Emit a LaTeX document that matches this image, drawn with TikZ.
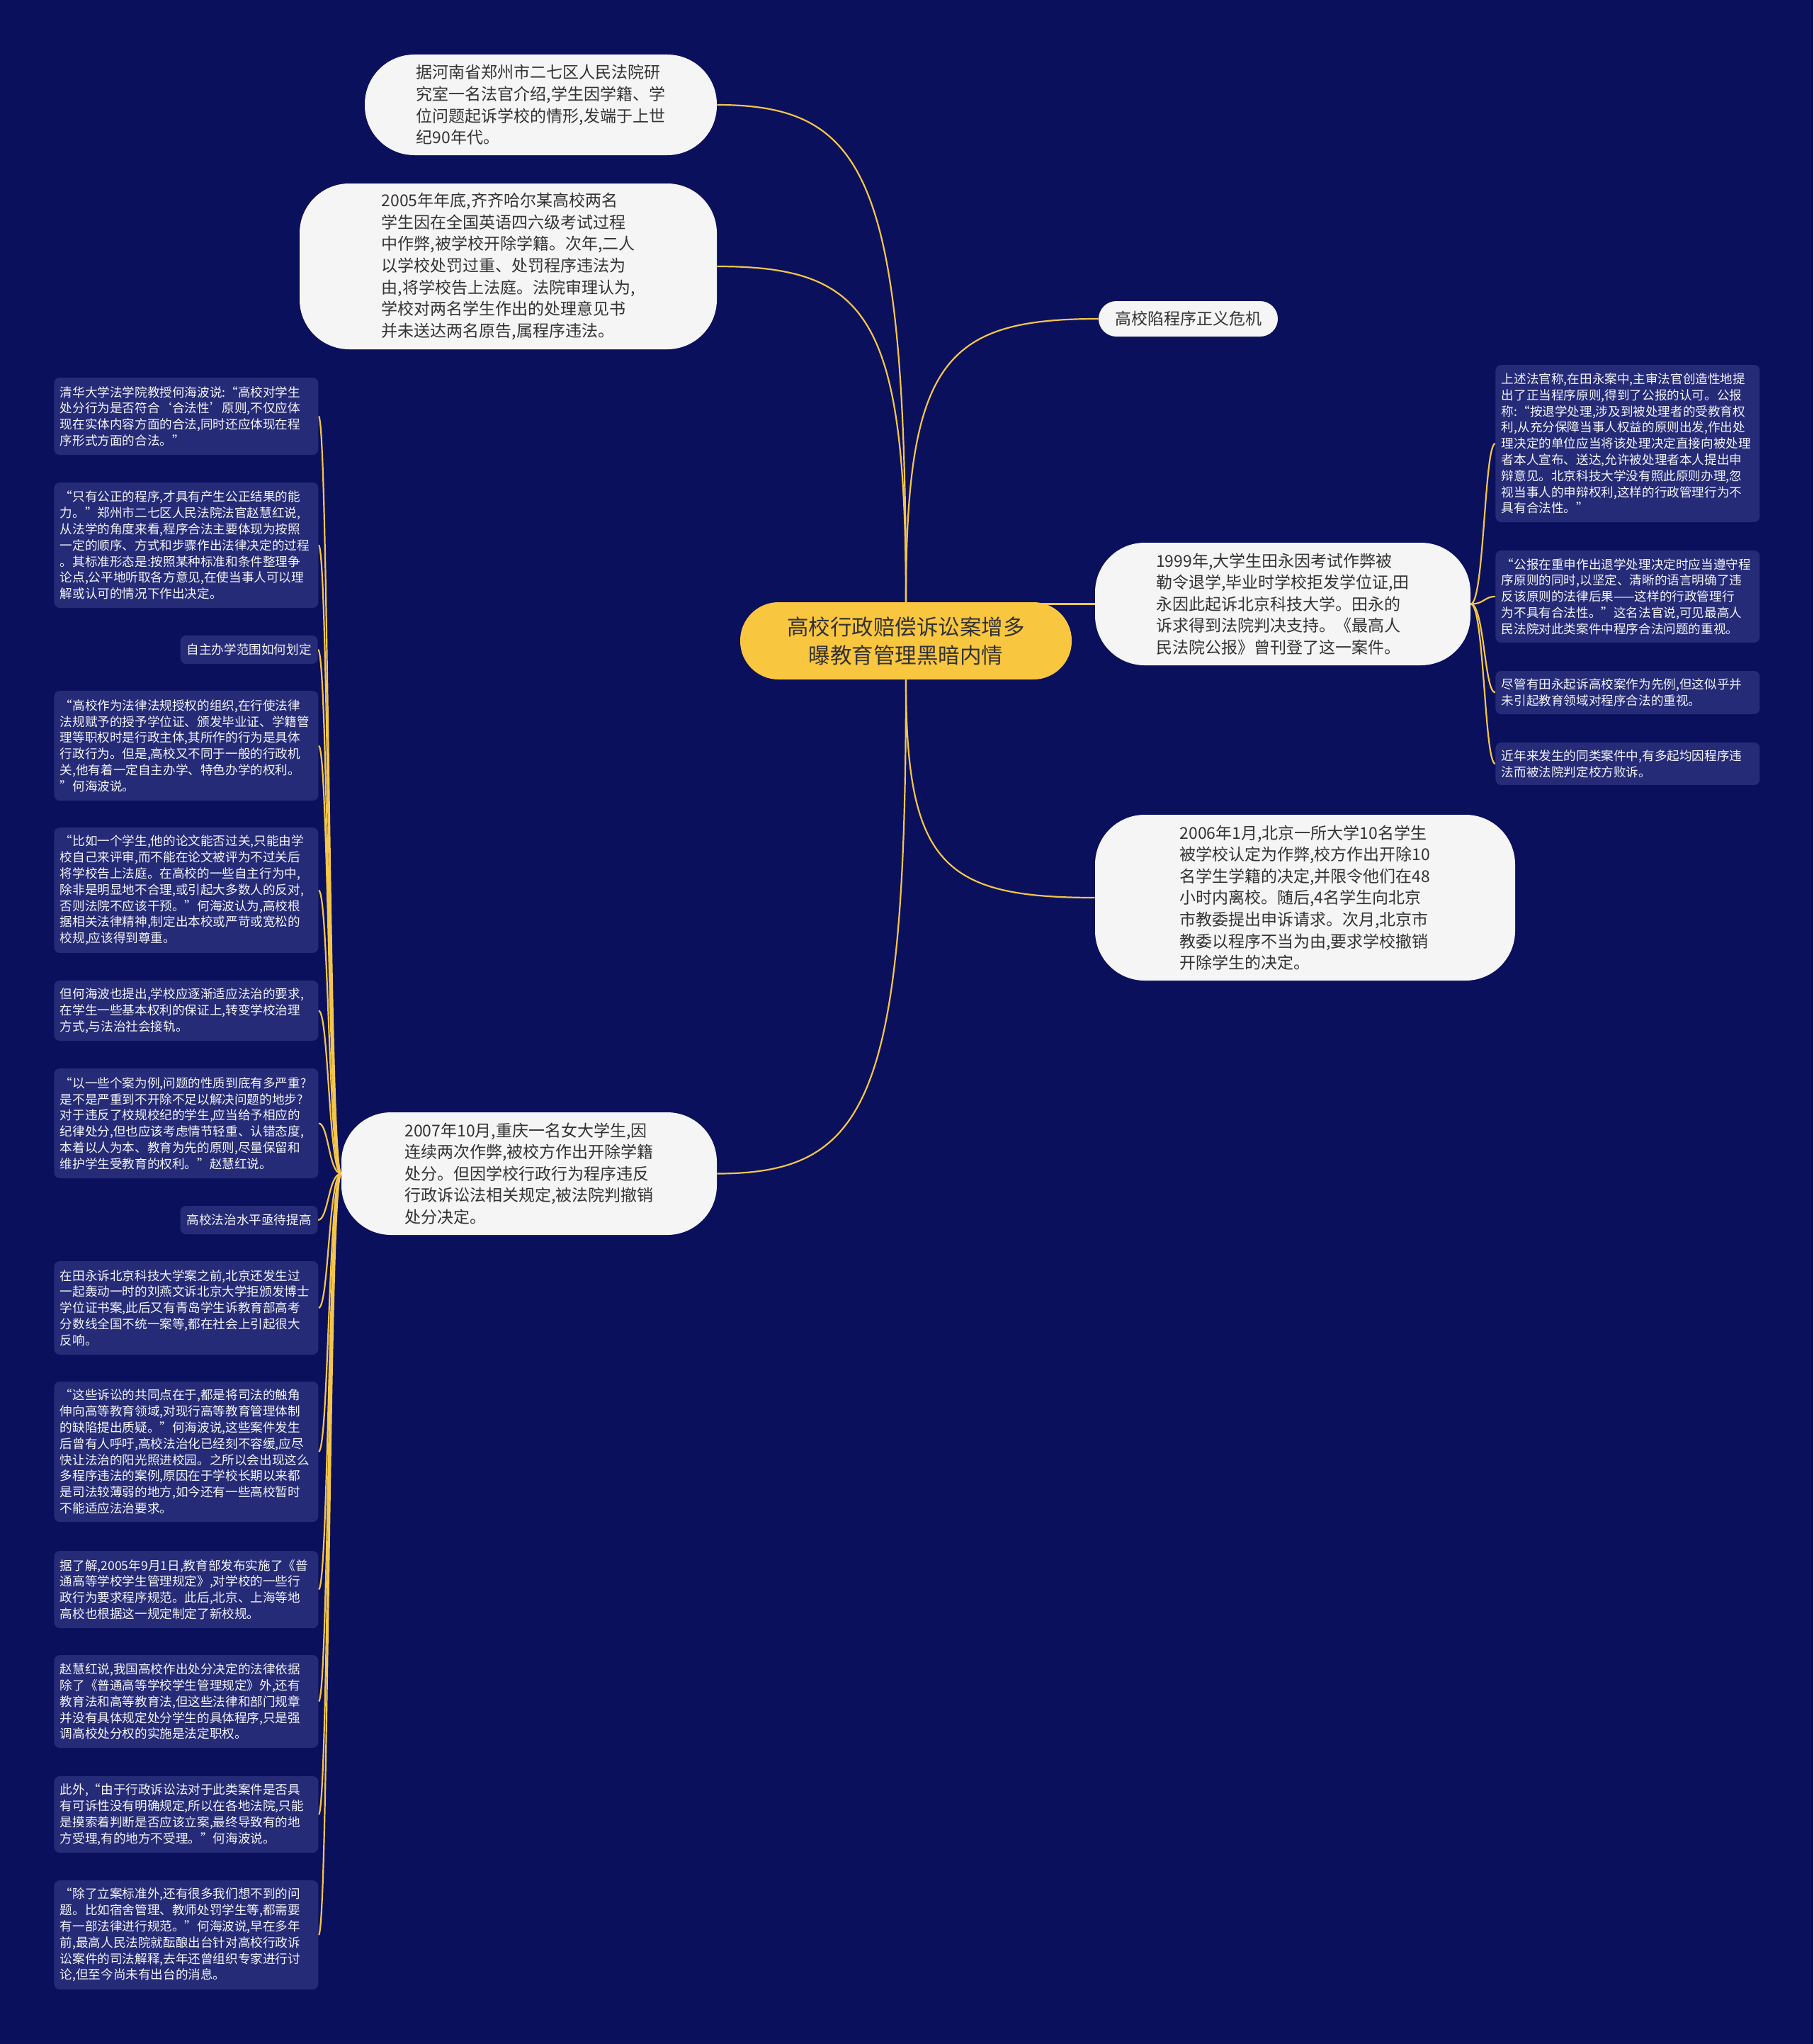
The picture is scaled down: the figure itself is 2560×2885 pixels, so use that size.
\documentclass[tikz,border=0pt]{standalone}
\usepackage{fontspec}
\setmainfont{Noto Sans CJK SC}
\usetikzlibrary{calc}
\definecolor{bgc}{HTML}{0B105C}
\definecolor{leafc}{HTML}{252B77}
\definecolor{leaft}{HTML}{F4F4F8}
\definecolor{linec}{HTML}{F3C54A}
\definecolor{cenc}{HTML}{F9C640}
\definecolor{cent}{HTML}{333333}
\definecolor{bubc}{HTML}{F5F5F5}
\definecolor{bubt}{HTML}{333333}
\pgfdeclarelayer{bg}
\pgfdeclarelayer{edges}
\pgfsetlayers{bg,edges,main}
\begin{document}
\begin{tikzpicture}[x=0.5pt,y=-0.5pt,
  bubble/.style={fill=bubc, text=bubt, rounded corners=35pt, align=left, inner sep=0pt,
    font=\fontsize{11.5pt}{15.3pt}\selectfont},
  leaf/.style={fill=leafc, text=leaft, rounded corners=4pt, align=left, text width=178pt,
    inner xsep=4.25pt, inner ysep=0pt, anchor=west, font=\fontsize{8.8pt}{11.4pt}\selectfont},
  tagbox/.style={fill=leafc, text=leaft, rounded corners=4pt, inner xsep=4.5pt, inner ysep=0pt,
    minimum height=20pt, anchor=east, font=\fontsize{8.8pt}{11.4pt}\selectfont},
  rootbox/.style={fill=cenc, text=cent, rounded corners=27pt, align=center, inner sep=0pt,
    minimum width=234pt, minimum height=54.5pt, font=\fontsize{15.25pt}{20pt}\selectfont},
  edge/.style={draw=linec, line width=1.1pt},
  vh/.style={to path={.. controls ($(\tikztostart)!0.85!(\tikztostart|-\tikztotarget)$) and ($(\tikztotarget)!0.8!(\tikztostart|-\tikztotarget)$) .. (\tikztotarget)}},
  fan/.style={to path={.. controls ($(\tikztostart)!0.55!(\tikztostart-|\tikztotarget)$) and ($(\tikztotarget)!0.45!(\tikztotarget-|\tikztostart)$) .. (\tikztotarget)}}
]
\useasboundingbox (0,0) rectangle (2560,2885);
\begin{pgfonlayer}{bg}
\fill[bgc] (0,0) rectangle (2560,2885);
\end{pgfonlayer}

% root
\node[rootbox] (c) at (1279,904.5) {高校行政赔偿诉讼案增多\\曝教育管理黑暗内情};

% main branches
\node[bubble, minimum width=248.5pt, minimum height=71pt] (n1) at (763.5,148) {据河南省郑州市二七区人民法院研\\究室一名法官介绍,学生因学籍、学\\位问题起诉学校的情形,发端于上世\\纪90年代。};
\node[bubble, minimum width=294.5pt, minimum height=117pt] (n2) at (717.5,376) {2005年年底,齐齐哈尔某高校两名\\学生因在全国英语四六级考试过程\\中作弊,被学校开除学籍。次年,二人\\以学校处罚过重、处罚程序违法为\\由,将学校告上法庭。法院审理认为,\\学校对两名学生作出的处理意见书\\并未送达两名原告,属程序违法。};
\node[bubble, rounded corners=12.5pt, minimum width=126.5pt, minimum height=25pt] (n3) at (1677.5,450) {高校陷程序正义危机};
\node[bubble, minimum width=265pt, minimum height=86.5pt] (n4) at (1811,852.5) {1999年,大学生田永因考试作弊被\\勒令退学,毕业时学校拒发学位证,田\\永因此起诉北京科技大学。田永的\\诉求得到法院判决支持。《最高人\\民法院公报》曾刊登了这一案件。};
\node[bubble, minimum width=296.5pt, minimum height=117pt] (n5) at (1842.5,1267) {2006年1月,北京一所大学10名学生\\被学校认定为作弊,校方作出开除10\\名学生学籍的决定,并限令他们在48\\小时内离校。随后,4名学生向北京\\市教委提出申诉请求。次月,北京市\\教委以程序不当为由,要求学校撤销\\开除学生的决定。};
\node[bubble, minimum width=265pt, minimum height=86.5pt] (n6) at (747,1656.5) {2007年10月,重庆一名女大学生,因\\连续两次作弊,被校方作出开除学籍\\处分。但因学校行政行为程序违反\\行政诉讼法相关规定,被法院判撤销\\处分决定。};

% right leaves
\node[leaf, minimum height=111pt] (r1) at (2111,626) {上述法官称,在田永案中,主审法官创造性地提\\出了正当程序原则,得到了公报的认可。公报\\称:“按退学处理,涉及到被处理者的受教育权\\利,从充分保障当事人权益的原则出发,作出处\\理决定的单位应当将该处理决定直接向被处理\\者本人宣布、送达,允许被处理者本人提出申\\辩意见。北京科技大学没有照此原则办理,忽\\视当事人的申辩权利,这样的行政管理行为不\\具有合法性。”};
\node[leaf, minimum height=65pt] (r2) at (2111,842) {“公报在重申作出退学处理决定时应当遵守程\\序原则的同时,以坚定、清晰的语言明确了违\\反该原则的法律后果——这样的行政管理行\\为不具有合法性。”这名法官说,可见最高人\\民法院对此类案件中程序合法问题的重视。};
\node[leaf, minimum height=30.5pt] (r3) at (2111,977.5) {尽管有田永起诉高校案作为先例,但这似乎并\\未引起教育领域对程序合法的重视。};
\node[leaf, minimum height=30pt] (r4) at (2111,1078) {近年来发生的同类案件中,有多起均因程序违\\法而被法院判定校方败诉。};

% left leaves
\node[leaf, minimum height=54.5pt] (l1) at (76,587.5) {清华大学法学院教授何海波说:“高校对学生\\处分行为是否符合‘合法性’原则,不仅应体\\现在实体内容方面的合法,同时还应体现在程\\序形式方面的合法。”};
\node[leaf, minimum height=88.5pt] (l2) at (76,769.5) {“只有公正的程序,才具有产生公正结果的能\\力。”郑州市二七区人民法院法官赵慧红说,\\从法学的角度来看,程序合法主要体现为按照\\一定的顺序、方式和步骤作出法律决定的过程\\。其标准形态是:按照某种标准和条件整理争\\论点,公平地听取各方意见,在使当事人可以理\\解或认可的情况下作出决定。};
\node[tagbox] (l3) at (449,917) {自主办学范围如何划定};
\node[leaf, minimum height=77.5pt] (l4) at (76,1052.5) {“高校作为法律法规授权的组织,在行使法律\\法规赋予的授予学位证、颁发毕业证、学籍管\\理等职权时是行政主体,其所作的行为是具体\\行政行为。但是,高校又不同于一般的行政机\\关,他有着一定自主办学、特色办学的权利。\\”何海波说。};
\node[leaf, minimum height=88.5pt] (l5) at (76,1256.5) {“比如一个学生,他的论文能否过关,只能由学\\校自己来评审,而不能在论文被评为不过关后\\将学校告上法庭。在高校的一些自主行为中,\\除非是明显地不合理,或引起大多数人的反对,\\否则法院不应该干预。”何海波认为,高校根\\据相关法律精神,制定出本校或严苛或宽松的\\校规,应该得到尊重。};
\node[leaf, minimum height=42.5pt] (l6) at (76,1426.5) {但何海波也提出,学校应逐渐适应法治的要求,\\在学生一些基本权利的保证上,转变学校治理\\方式,与法治社会接轨。};
\node[leaf, minimum height=77.5pt] (l7) at (76,1585.5) {“以一些个案为例,问题的性质到底有多严重?\\是不是严重到不开除不足以解决问题的地步?\\对于违反了校规校纪的学生,应当给予相应的\\纪律处分,但也应该考虑情节轻重、认错态度,\\本着以人为本、教育为先的原则,尽量保留和\\维护学生受教育的权利。”赵慧红说。};
\node[tagbox] (l8) at (449,1722) {高校法治水平亟待提高};
\node[leaf, minimum height=66pt] (l9) at (76,1846) {在田永诉北京科技大学案之前,北京还发生过\\一起轰动一时的刘燕文诉北京大学拒颁发博士\\学位证书案,此后又有青岛学生诉教育部高考\\分数线全国不统一案等,都在社会上引起很大\\反响。};
\node[leaf, minimum height=99pt] (l10) at (76,2049) {“这些诉讼的共同点在于,都是将司法的触角\\伸向高等教育领域,对现行高等教育管理体制\\的缺陷提出质疑。”何海波说,这些案件发生\\后曾有人呼吁,高校法治化已经刻不容缓,应尽\\快让法治的阳光照进校园。之所以会出现这么\\多程序违法的案例,原因在于学校长期以来都\\是司法较薄弱的地方,如今还有一些高校暂时\\不能适应法治要求。};
\node[leaf, minimum height=54.5pt] (l11) at (76,2243.5) {据了解,2005年9月1日,教育部发布实施了《普\\通高等学校学生管理规定》,对学校的一些行\\政行为要求程序规范。此后,北京、上海等地\\高校也根据这一规定制定了新校规。};
\node[leaf, minimum height=65.5pt] (l12) at (76,2401.5) {赵慧红说,我国高校作出处分决定的法律依据\\除了《普通高等学校学生管理规定》外,还有\\教育法和高等教育法,但这些法律和部门规章\\并没有具体规定处分学生的具体程序,只是强\\调高校处分权的实施是法定职权。};
\node[leaf, minimum height=54pt] (l13) at (76,2561) {此外,“由于行政诉讼法对于此类案件是否具\\有可诉性没有明确规定,所以在各地法院,只能\\是摸索着判断是否应该立案,最终导致有的地\\方受理,有的地方不受理。”何海波说。};
\node[leaf, minimum height=77pt] (l14) at (76,2731) {“除了立案标准外,还有很多我们想不到的问\\题。比如宿舍管理、教师处罚学生等,都需要\\有一部法律进行规范。”何海波说,早在多年\\前,最高人民法院就酝酿出台针对高校行政诉\\讼案件的司法解释,去年还曾组织专家进行讨\\论,但至今尚未有出台的消息。};

\begin{pgfonlayer}{edges}
\draw[edge] (c.north) to[vh] (n1.east);
\draw[edge] (c.north) to[vh] (n2.east);
\draw[edge] (c.north) to[vh] (n3.west);
\draw[edge] (c.center |- n4.west) -- (n4.west);
\draw[edge] (c.south) to[vh] (n5.west);
\draw[edge] (c.south) to[vh] (n6.east);
\foreach \r in {r1,r2,r3,r4} \draw[edge] (n4.east) to[fan] (\r.west);
\foreach \l in {l1,l2,l3,l4,l5,l6,l7,l8,l9,l10,l11,l12,l13,l14} \draw[edge] (n6.west) to[fan] (\l.east);
\end{pgfonlayer}
\end{tikzpicture}
\end{document}
